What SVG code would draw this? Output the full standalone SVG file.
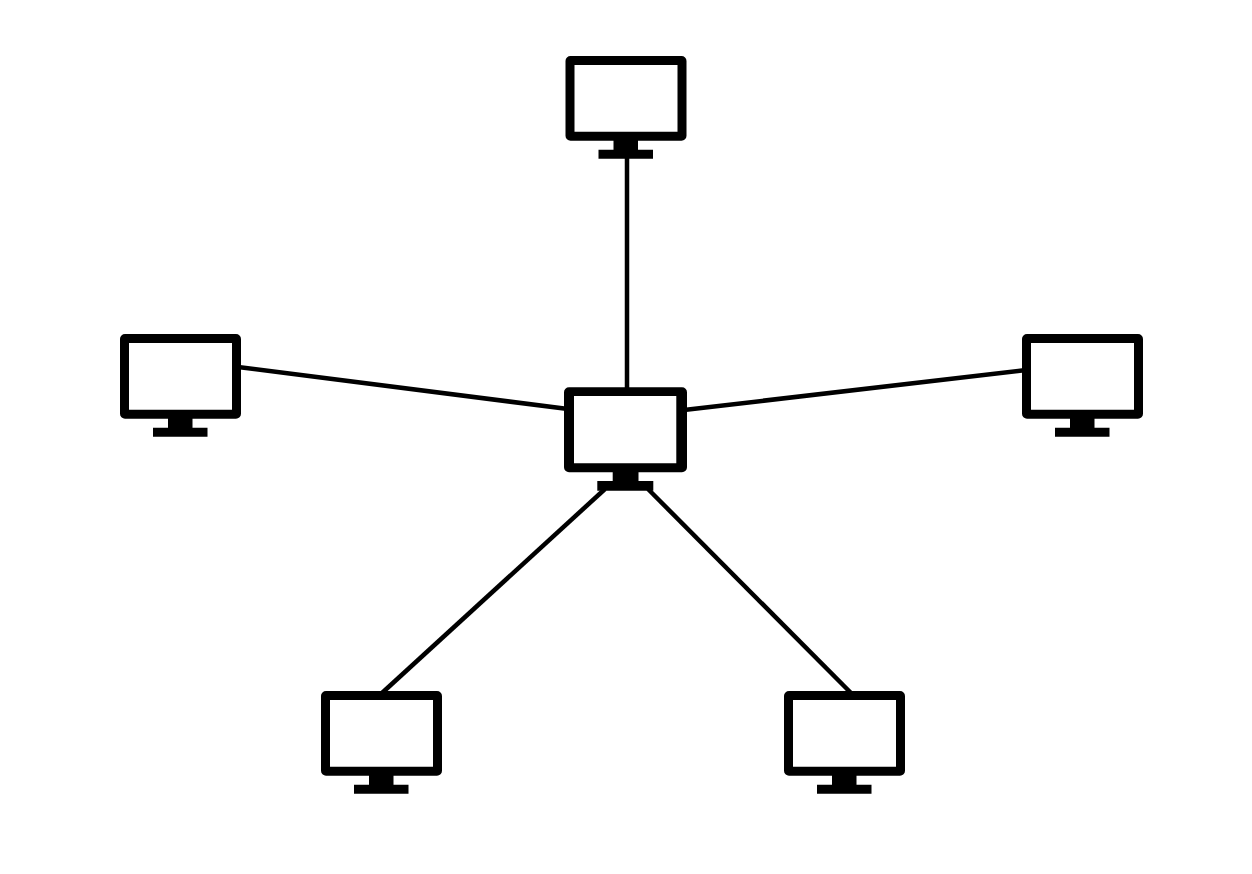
<svg xmlns="http://www.w3.org/2000/svg" width="1252" height="874" viewBox="0 0 1252 874">
<style>
.link{stroke:#000;stroke-width:4.500;fill:none}
.icon{fill:#000;fill-rule:evenodd}
</style>
<defs>
<path id="pc" class="icon" d="M5 0H116A5 5 0 0 1 121 5V79.700A5 5 0 0 1 116 84.700H72.500V93.800H87.500V102.800H33V93.800H48V84.700H5A5 5 0 0 1 0 79.700V5A5 5 0 0 1 5 0ZM9 9V75.700H112V9Z"/>
</defs>
<rect width="1252" height="874" fill="#fff"/>
<g id="connectors">
<line class="link" x1="627" y1="155" x2="627" y2="392"/>
<line class="link" x1="238" y1="367" x2="568" y2="409"/>
<line class="link" x1="1026" y1="370" x2="684" y2="410"/>
<line class="link" x1="605" y1="489" x2="382" y2="693"/>
<line class="link" x1="648" y1="489" x2="851" y2="693"/>
</g>
<g id="node-top"><use href="#pc" x="565.500" y="56"/></g>
<g id="node-left"><use href="#pc" x="120" y="334"/></g>
<g id="node-right"><use href="#pc" x="1022" y="334"/></g>
<g id="node-bottom-left"><use href="#pc" x="321" y="691"/></g>
<g id="node-bottom-right"><use href="#pc" x="784" y="691"/></g>
<g id="node-center"><path class="icon" d="M569 387.300H682A5 5 0 0 1 687 392.300V467.300A5 5 0 0 1 682 472.300H638.500V481H653.300V490.700H597.300V481H612.700V472.300H569A5 5 0 0 1 564 467.300V392.300A5 5 0 0 1 569 387.300ZM574 396V463.300H676.300V396Z"/></g>
</svg>
